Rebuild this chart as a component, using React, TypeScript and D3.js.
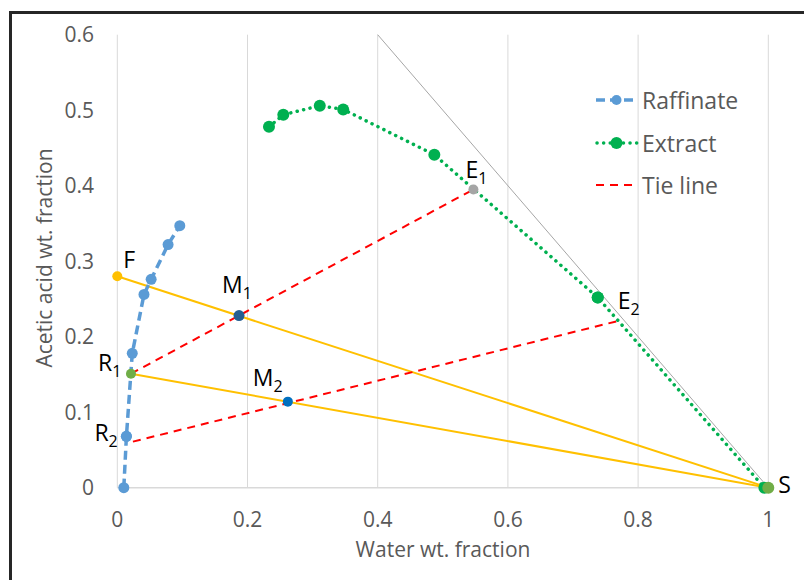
import React, { useRef, useEffect } from 'react';
import { select, scaleLinear, line } from 'd3';

// raffinate phase (water-rich) curve
const raffinateWater = [0.010, 0.014, 0.023, 0.041, 0.052, 0.078, 0.096];
const raffinateAcid = [0.0, 0.068, 0.178, 0.256, 0.276, 0.322, 0.347];

// extract phase curve
const extractWater = [0.233, 0.255, 0.311, 0.347, 0.487, 0.738, 0.994];
const extractAcid = [0.478, 0.494, 0.506, 0.501, 0.441, 0.252, 0.0];

// labelled points
const pointNames = ['F', 'M1', 'R1', 'R2', 'M2', 'E1', 'E2', 'S'];
const pointWater = [0.0, 0.187, 0.021, 0.014, 0.262, 0.547, 0.738, 1.0];
const pointAcid = [0.28, 0.228, 0.151, 0.068, 0.114, 0.395, 0.252, 0.0];

// tie lines (raffinate end -> extract end)
const tieFrom = [[0.021, 0.151], [0.024, 0.061]];
const tieTo = [[0.547, 0.395], [0.770, 0.221]];

// mixing lines F-S and R1-S
const mixFrom = [[0.0, 0.28], [0.021, 0.151]];
const mixTo = [[1.0, 0.0], [1.0, 0.0]];

// x + y = 1 boundary
const edgeLine = [[0.4, 0.6], [1.0, 0.0]];

const xTicks = [0, 0.2, 0.4, 0.6, 0.8, 1];
const yTicks = [0, 0.1, 0.2, 0.3, 0.4, 0.5, 0.6];

const legendNames = ['Raffinate', 'Extract', 'Tie line'];

// styling / layout for the labelled points
const pointStyle: Record<string, { color: string; r: number; dx: number; dy: number }> = {
  F: { color: '#FFC000', r: 5, dx: 6, dy: -8 },
  M1: { color: '#255E91', r: 5.5, dx: -17, dy: -23 },
  R1: { color: '#70AD47', r: 5, dx: -33, dy: -3 },
  R2: { color: '#5B9BD5', r: 5.5, dx: -32, dy: 5 },
  M2: { color: '#0070C0', r: 5, dx: -35, dy: -16 },
  E1: { color: '#A5A5A5', r: 5, dx: -8, dy: -11 },
  E2: { color: '#00B050', r: 6, dx: 20, dy: 12 },
  S: { color: '#70AD47', r: 6, dx: 10, dy: 5 },
};

const FONT = '"Open Sans", "Liberation Sans", sans-serif';

export default function App() {
  const svgRef = useRef<SVGSVGElement>(null);

  useEffect(() => {
    const svg = select(svgRef.current);
    svg.selectAll('*').remove();

    const x = scaleLinear().domain([0, 1]).range([117.3, 768.3]);
    const y = scaleLinear().domain([0, 0.6]).range([487.7, 34.7]);
    const path = line<number[]>().x(d => x(d[0])).y(d => y(d[1]));

    svg.append('rect').attr('width', 804).attr('height', 580).attr('fill', '#fff');
    // chart border (right/bottom are cut off in the picture)
    svg.append('rect')
      .attr('x', 10.5).attr('y', 12.5).attr('width', 900).attr('height', 700)
      .attr('fill', 'none').attr('stroke', '#262626').attr('stroke-width', 3);

    // vertical gridlines
    svg.selectAll('.grid')
      .data(xTicks)
      .join('line')
      .attr('x1', d => x(d)).attr('x2', d => x(d))
      .attr('y1', y(0.6)).attr('y2', y(0))
      .attr('stroke', '#D9D9D9').attr('stroke-width', 1);
    svg.append('line')
      .attr('x1', x(0)).attr('x2', x(1)).attr('y1', y(0)).attr('y2', y(0))
      .attr('stroke', '#D9D9D9').attr('stroke-width', 1.5);

    // tick labels
    svg.selectAll('.xt')
      .data(xTicks)
      .join('text')
      .attr('x', d => x(d)).attr('y', 527)
      .attr('text-anchor', 'middle')
      .attr('font-family', FONT).attr('font-size', 21).attr('fill', '#595959')
      .text(d => String(d));
    svg.selectAll('.yt')
      .data(yTicks)
      .join('text')
      .attr('x', 94).attr('y', d => y(d) + 7.5)
      .attr('text-anchor', 'end')
      .attr('font-family', FONT).attr('font-size', 21).attr('fill', '#595959')
      .text(d => String(d));

    // axis titles
    svg.append('text')
      .attr('x', 443).attr('y', 557)
      .attr('text-anchor', 'middle')
      .attr('font-family', FONT).attr('font-size', 21).attr('fill', '#595959')
      .text('Water wt. fraction');
    svg.append('text')
      .attr('transform', 'translate(52,258) rotate(-90)')
      .attr('text-anchor', 'middle')
      .attr('font-family', FONT).attr('font-size', 21).attr('fill', '#595959')
      .text('Acetic acid wt. fraction');

    // boundary line
    svg.append('path').attr('d', path(edgeLine))
      .attr('fill', 'none').attr('stroke', '#A6A6A6').attr('stroke-width', 1);

    // mixing lines
    mixFrom.forEach((p, i) => {
      svg.append('path').attr('d', path([p, mixTo[i]]))
        .attr('fill', 'none').attr('stroke', '#FFC000').attr('stroke-width', 2);
    });

    // tie lines
    tieFrom.forEach((p, i) => {
      svg.append('path').attr('d', path([p, tieTo[i]]))
        .attr('fill', 'none').attr('stroke', '#FF0000').attr('stroke-width', 2)
        .attr('stroke-dasharray', '8,6');
    });

    // raffinate curve
    const raff = raffinateWater.map((w, i) => [w, raffinateAcid[i]]);
    svg.append('path').attr('d', path(raff))
      .attr('fill', 'none').attr('stroke', '#5B9BD5').attr('stroke-width', 3.5)
      .attr('stroke-dasharray', '9,5');
    svg.selectAll('.raff')
      .data(raff)
      .join('circle')
      .attr('cx', d => x(d[0])).attr('cy', d => y(d[1])).attr('r', 5.5)
      .attr('fill', '#5B9BD5');

    // extract curve
    const ext = extractWater.map((w, i) => [w, extractAcid[i]]);
    svg.append('path').attr('d', path(ext))
      .attr('fill', 'none').attr('stroke', '#00B050').attr('stroke-width', 3.5)
      .attr('stroke-linecap', 'round').attr('stroke-dasharray', '0.1,6.5');
    svg.selectAll('.ext')
      .data(ext)
      .join('circle')
      .attr('cx', d => x(d[0])).attr('cy', d => y(d[1])).attr('r', 6)
      .attr('fill', '#00B050');

    // labelled points
    pointNames.forEach((name, i) => {
      const s = pointStyle[name];
      const px = x(pointWater[i]);
      const py = y(pointAcid[i]);
      svg.append('circle').attr('cx', px).attr('cy', py).attr('r', s.r).attr('fill', s.color);
      const t = svg.append('text')
        .attr('x', px + s.dx).attr('y', py + s.dy)
        .attr('font-family', FONT).attr('font-size', 23).attr('fill', '#000');
      t.append('tspan').text(name[0]);
      if (name.length > 1) {
        t.append('tspan').attr('dy', 6).attr('font-size', 16).text(name.slice(1));
      }
    });

    // legend
    const lx0 = 596;
    const lx1 = 637;
    const rows = [100, 143, 185];
    const leg = svg.append('g');
    leg.append('line').attr('x1', lx0).attr('x2', lx1).attr('y1', rows[0]).attr('y2', rows[0])
      .attr('stroke', '#5B9BD5').attr('stroke-width', 3.5).attr('stroke-dasharray', '9,5');
    leg.append('circle').attr('cx', (lx0 + lx1) / 2).attr('cy', rows[0]).attr('r', 5).attr('fill', '#5B9BD5');
    leg.append('line').attr('x1', lx0 + 1).attr('x2', lx1).attr('y1', rows[1]).attr('y2', rows[1])
      .attr('stroke', '#00B050').attr('stroke-width', 3.5).attr('stroke-linecap', 'round')
      .attr('stroke-dasharray', '0.1,6.5');
    leg.append('circle').attr('cx', (lx0 + lx1) / 2).attr('cy', rows[1]).attr('r', 6).attr('fill', '#00B050');
    leg.append('line').attr('x1', lx0).attr('x2', lx1).attr('y1', rows[2]).attr('y2', rows[2])
      .attr('stroke', '#FF0000').attr('stroke-width', 2).attr('stroke-dasharray', '8,6');
    leg.selectAll('.lt')
      .data(legendNames)
      .join('text')
      .attr('x', 642).attr('y', (d, i) => rows[i] + 8.5)
      .attr('font-family', FONT).attr('font-size', 23).attr('fill', '#595959')
      .text(d => d);
  }, []);

  return (
    <svg ref={svgRef} width={804} height={580}
      style={{ position: 'absolute', left: 0, top: 0 }} />
  );
}
